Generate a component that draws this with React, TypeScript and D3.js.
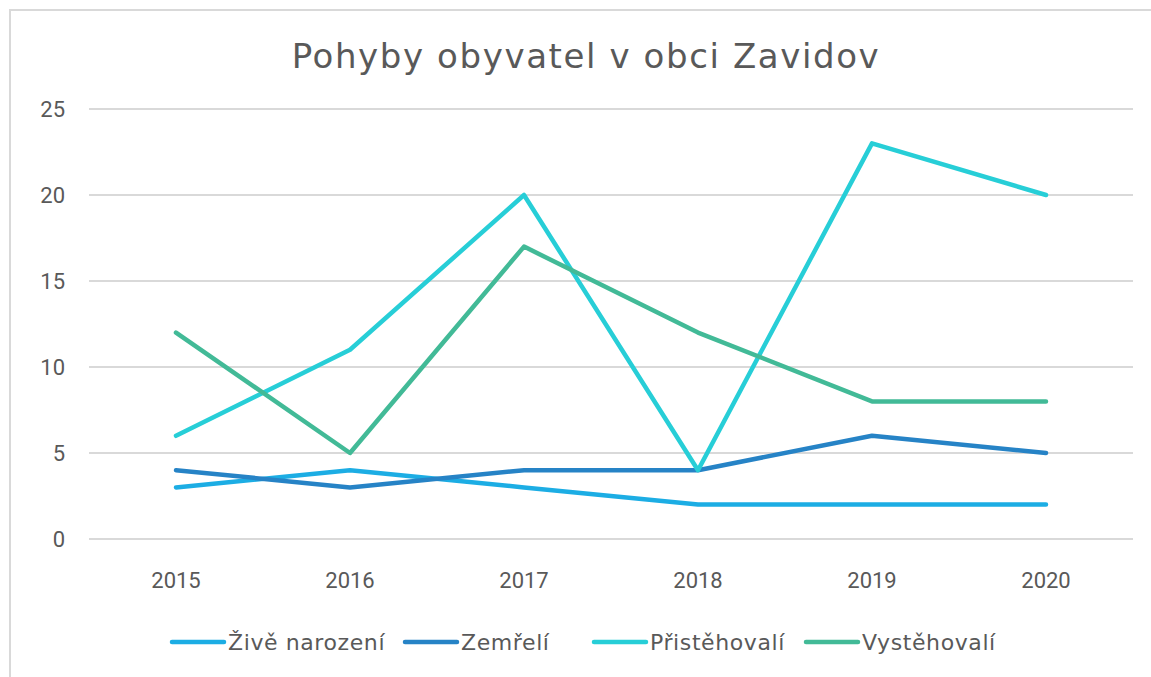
import React, { useEffect, useRef } from 'react';
import * as d3 from 'd3';

const years = ['2015', '2016', '2017', '2018', '2019', '2020'];
const zive = [3, 4, 3, 2, 2, 2];
const zemreli = [4, 3, 4, 4, 6, 5];
const pristehovali = [6, 11, 20, 4, 23, 20];
const vystehovali = [12, 5, 17, 12, 8, 8];
const yTicks = [0, 5, 10, 15, 20, 25];

const series = [
  { name: 'Živě narození', values: zive, color: '#1CADE4' },
  { name: 'Zemřelí', values: zemreli, color: '#2683C6' },
  { name: 'Přistěhovalí', values: pristehovali, color: '#27CED7' },
  { name: 'Vystěhovalí', values: vystehovali, color: '#42BA97' },
];

const W = 1151, H = 677;

const App = () => {
  const ref = useRef<SVGSVGElement>(null);

  useEffect(() => {
    const svg = d3.select(ref.current);
    svg.selectAll('*').remove();

    svg.append('rect')
      .attr('x', 10).attr('y', 10)
      .attr('width', W).attr('height', H)
      .attr('fill', '#fff')
      .attr('stroke', '#d9d9d9').attr('stroke-width', 2);

    const x = d3.scaleBand().domain(years).range([89, 1133]);
    const y = d3.scaleLinear().domain([0, 25]).range([539, 109]);

    svg.append('text')
      .attr('x', 586).attr('y', 68)
      .attr('text-anchor', 'middle')
      .attr('font-family', 'DejaVu Sans, sans-serif')
      .attr('font-size', 34)
      .attr('letter-spacing', 1.6)
      .attr('fill', '#595959')
      .text('Pohyby obyvatel v obci Zavidov');

    // gridlines
    svg.append('g').selectAll('line').data(yTicks).enter().append('line')
      .attr('x1', 89).attr('x2', 1133)
      .attr('y1', d => y(d)).attr('y2', d => y(d))
      .attr('stroke', '#d9d9d9').attr('stroke-width', 2);

    svg.append('g').selectAll('text').data(yTicks).enter().append('text')
      .attr('x', 65).attr('y', d => y(d) + 8)
      .attr('text-anchor', 'end')
      .attr('font-family', 'Roboto, sans-serif')
      .attr('font-size', 22)
      .attr('fill', '#595959')
      .text(d => d);

    svg.append('g').selectAll('text').data(years).enter().append('text')
      .attr('x', d => x(d)! + x.bandwidth() / 2).attr('y', 588)
      .attr('text-anchor', 'middle')
      .attr('font-family', 'Roboto, sans-serif')
      .attr('font-size', 22)
      .attr('fill', '#595959')
      .text(d => d);

    const line = d3.line<number>()
      .x((_, i) => x(years[i])! + x.bandwidth() / 2)
      .y(d => y(d));

    series.forEach(s => {
      svg.append('path')
        .attr('d', line(s.values))
        .attr('fill', 'none')
        .attr('stroke', s.color)
        .attr('stroke-width', 4.5)
        .attr('stroke-linecap', 'round')
        .attr('stroke-linejoin', 'round');
    });

    // legend
    const legendX = [172, 405, 594, 806];
    const lg = svg.append('g');
    series.forEach((s, i) => {
      const lx = legendX[i];
      lg.append('line')
        .attr('x1', lx).attr('x2', lx + 52)
        .attr('y1', 642).attr('y2', 642)
        .attr('stroke', s.color).attr('stroke-width', 4.5)
        .attr('stroke-linecap', 'round');
      lg.append('text')
        .attr('x', lx + 56).attr('y', 650)
        .attr('font-family', 'DejaVu Sans, sans-serif')
        .attr('font-size', 22)
        .attr('letter-spacing', 0.6)
        .attr('fill', '#595959')
        .text(s.name);
    });
  }, []);

  return <svg ref={ref} width={W} height={H} style={{ position: 'absolute', left: 0, top: 0 }} />;
};

export default App;
